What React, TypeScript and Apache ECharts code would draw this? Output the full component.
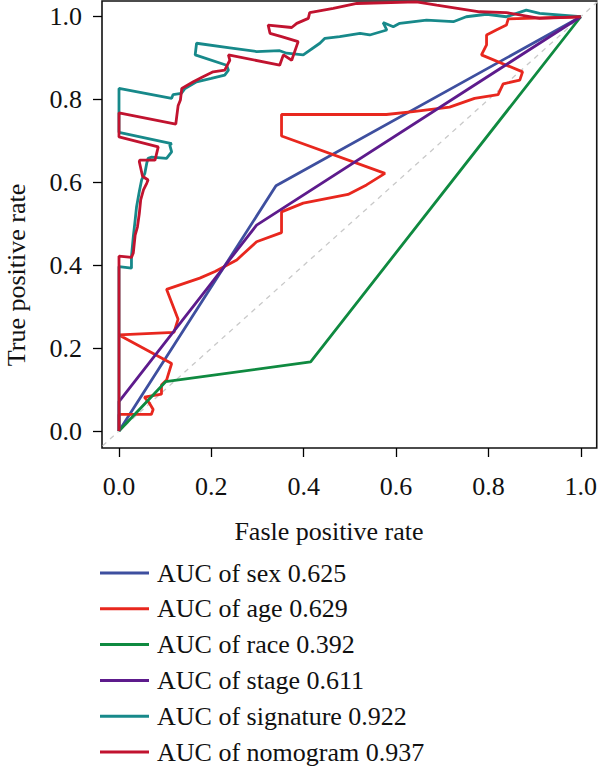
import { useEffect, useRef } from "react";
import * as echarts from "echarts";

// Tick positions shared by both axes
const tickValues = [0, 0.2, 0.4, 0.6, 0.8, 1.0];

// Legend / series labels
const seriesNames = [
  "AUC of sex 0.625",
  "AUC of age 0.629",
  "AUC of race 0.392",
  "AUC of stage 0.611",
  "AUC of signature 0.922",
  "AUC of nomogram 0.937",
];

const seriesColors = ["#3E4F9F", "#E8271E", "#0F8A40", "#5D1B8C", "#17898A", "#C1132F"];

// ROC curves as [false positive rate, true positive rate]
const sexRoc = [
  [0, 0],
  [0.34, 0.592],
  [1, 1],
];

const ageRoc = [
  [0, 0], [0, 0.04], [0.07, 0.04], [0.074, 0.052], [0.066, 0.067], [0.055, 0.082],
  [0.092, 0.089], [0.092, 0.111], [0.103, 0.123], [0.114, 0.163], [0, 0.232],
  [0.119, 0.238], [0.128, 0.27], [0.103, 0.342], [0.175, 0.369], [0.208, 0.385],
  [0.255, 0.413], [0.298, 0.457], [0.352, 0.479], [0.352, 0.529], [0.399, 0.55],
  [0.496, 0.571], [0.536, 0.594], [0.576, 0.622], [0.352, 0.712], [0.352, 0.764],
  [0.579, 0.764], [0.637, 0.771], [0.716, 0.782], [0.77, 0.803], [0.821, 0.812],
  [0.832, 0.838], [0.868, 0.847], [0.874, 0.867], [0.785, 0.908], [0.796, 0.932],
  [0.796, 0.956], [0.817, 0.968], [0.839, 0.98], [0.843, 0.995], [1, 1],
];

const raceRoc = [
  [0, 0],
  [0.101, 0.119],
  [0.415, 0.167],
  [1, 1],
];

const stageRoc = [
  [0, 0],
  [0, 0.071],
  [0.298, 0.497],
  [1, 1],
];

const signatureRoc = [
  [0, 0], [0, 0.397], [0.027, 0.393], [0.027, 0.421], [0.031, 0.469], [0.035, 0.509],
  [0.038, 0.541], [0.044, 0.578], [0.049, 0.606], [0.056, 0.622], [0.06, 0.646],
  [0.063, 0.658], [0.071, 0.661], [0.103, 0.658], [0.114, 0.674], [0.11, 0.69],
  [0.114, 0.694], [0, 0.721], [0, 0.827], [0.114, 0.803], [0.117, 0.812],
  [0.135, 0.815], [0.143, 0.827], [0.168, 0.843], [0.2, 0.851], [0.229, 0.859],
  [0.237, 0.871], [0.233, 0.883], [0.165, 0.908], [0.168, 0.936], [0.24, 0.925],
  [0.298, 0.916], [0.348, 0.918], [0.363, 0.912], [0.399, 0.908], [0.435, 0.936],
  [0.446, 0.948], [0.478, 0.952], [0.522, 0.96], [0.543, 0.956], [0.58, 0.968],
  [0.572, 0.986], [0.594, 0.976], [0.608, 0.984], [0.666, 0.992], [0.724, 0.988],
  [0.752, 1.0], [0.796, 1.006], [0.839, 1.0], [0.882, 1.016], [0.911, 1.008], [1, 1],
];

const nomogramRoc = [
  [0, 0], [0, 0.422], [0.027, 0.419], [0.031, 0.43], [0.035, 0.473], [0.04, 0.493],
  [0.044, 0.525], [0.047, 0.558], [0.053, 0.582], [0.06, 0.598], [0.063, 0.606],
  [0.051, 0.615], [0.044, 0.65], [0.045, 0.654], [0.078, 0.654], [0.085, 0.686],
  [0, 0.71], [0, 0.768], [0.123, 0.741], [0.125, 0.759], [0.128, 0.785],
  [0.133, 0.799], [0.136, 0.827], [0.161, 0.843], [0.182, 0.855], [0.204, 0.867],
  [0.229, 0.871], [0.24, 0.895], [0.237, 0.908], [0.348, 0.883], [0.356, 0.908],
  [0.374, 0.895], [0.388, 0.94], [0.352, 0.952], [0.327, 0.96], [0.323, 0.98],
  [0.374, 0.974], [0.385, 0.984], [0.41, 0.996], [0.413, 1.01], [0.464, 1.02],
  [0.515, 1.032], [0.644, 1.036], [0.688, 1.028], [0.781, 1.012], [0.839, 1.01],
  [0.911, 0.996], [1, 1],
];

// Chance line y = x, clipped to the plotting box
const chanceLine = [
  [-0.1, -0.1],
  [1.1, 1.1],
];

const rocSets = [sexRoc, ageRoc, raceRoc, stageRoc, signatureRoc, nomogramRoc];

const FONT = "'Liberation Serif', 'DejaVu Serif', serif";
const FONT_SIZE = 26;

export default function App() {
  const ref = useRef<HTMLDivElement>(null);

  useEffect(() => {
    if (!ref.current) return;
    const chart = echarts.init(ref.current, undefined, { renderer: "svg" });

    const axisCommon = {
      type: "value" as const,
      axisLine: { show: false, onZero: false },
      splitLine: { show: false },
      axisTick: {
        show: true,
        inside: false,
        length: 9,
        customValues: tickValues,
        lineStyle: { color: "#000", width: 1.3 },
      },
    };

    chart.setOption({
      animation: false,
      backgroundColor: "#fff",
      grid: {
        show: true,
        left: 102,
        right: 3,
        top: 1,
        bottom: 322,
        borderColor: "#111",
        borderWidth: 1.6,
        backgroundColor: "transparent",
      },
      xAxis: {
        ...axisCommon,
        min: -0.0368,
        max: 1.0346,
        axisLabel: {
          customValues: tickValues,
          formatter: (v: number) => v.toFixed(1),
          margin: 25,
          fontSize: FONT_SIZE,
          fontFamily: FONT,
          color: "#111",
        },
      },
      yAxis: {
        ...axisCommon,
        min: -0.041,
        max: 1.038,
        axisLabel: {
          customValues: tickValues,
          formatter: (v: number) => v.toFixed(1),
          margin: 20,
          fontSize: FONT_SIZE,
          fontFamily: FONT,
          color: "#111",
        },
      },
      legend: {
        data: seriesNames,
        orient: "vertical",
        left: 100,
        top: 559,
        padding: 0,
        icon: "rect",
        itemWidth: 49,
        itemHeight: 3,
        itemGap: 7.8,
        selectedMode: false,
        textStyle: {
          fontSize: FONT_SIZE,
          fontFamily: FONT,
          color: "#111",
          lineHeight: 28,
          padding: [0, 0, 0, 3],
        },
      },
      graphic: [
        {
          type: "text",
          x: 329,
          y: 531,
          style: {
            text: "Fasle positive rate",
            fontSize: FONT_SIZE,
            fontFamily: FONT,
            fill: "#111",
            align: "center",
            verticalAlign: "middle",
          },
        },
        {
          type: "text",
          x: 16,
          y: 275,
          rotation: Math.PI / 2,
          style: {
            text: "True positive rate",
            fontSize: FONT_SIZE,
            fontFamily: FONT,
            fill: "#111",
            align: "center",
            verticalAlign: "middle",
          },
        },
      ],
      series: [
        {
          type: "line",
          data: chanceLine,
          symbol: "none",
          silent: true,
          clip: true,
          lineStyle: { color: "#c9c9c9", width: 1.3, type: [5, 5] },
          z: 1,
        },
        ...rocSets.map((d, i) => ({
          name: seriesNames[i],
          type: "line",
          data: d,
          symbol: "none",
          showSymbol: false,
          clip: true,
          color: seriesColors[i],
          lineStyle: { color: seriesColors[i], width: 2.8 },
          z: 2 + i,
        })),
      ],
    });

    return () => chart.dispose();
  }, []);

  return (
    <div
      ref={ref}
      style={{ position: "fixed", left: 0, top: 0, width: 600, height: 770 }}
    />
  );
}
